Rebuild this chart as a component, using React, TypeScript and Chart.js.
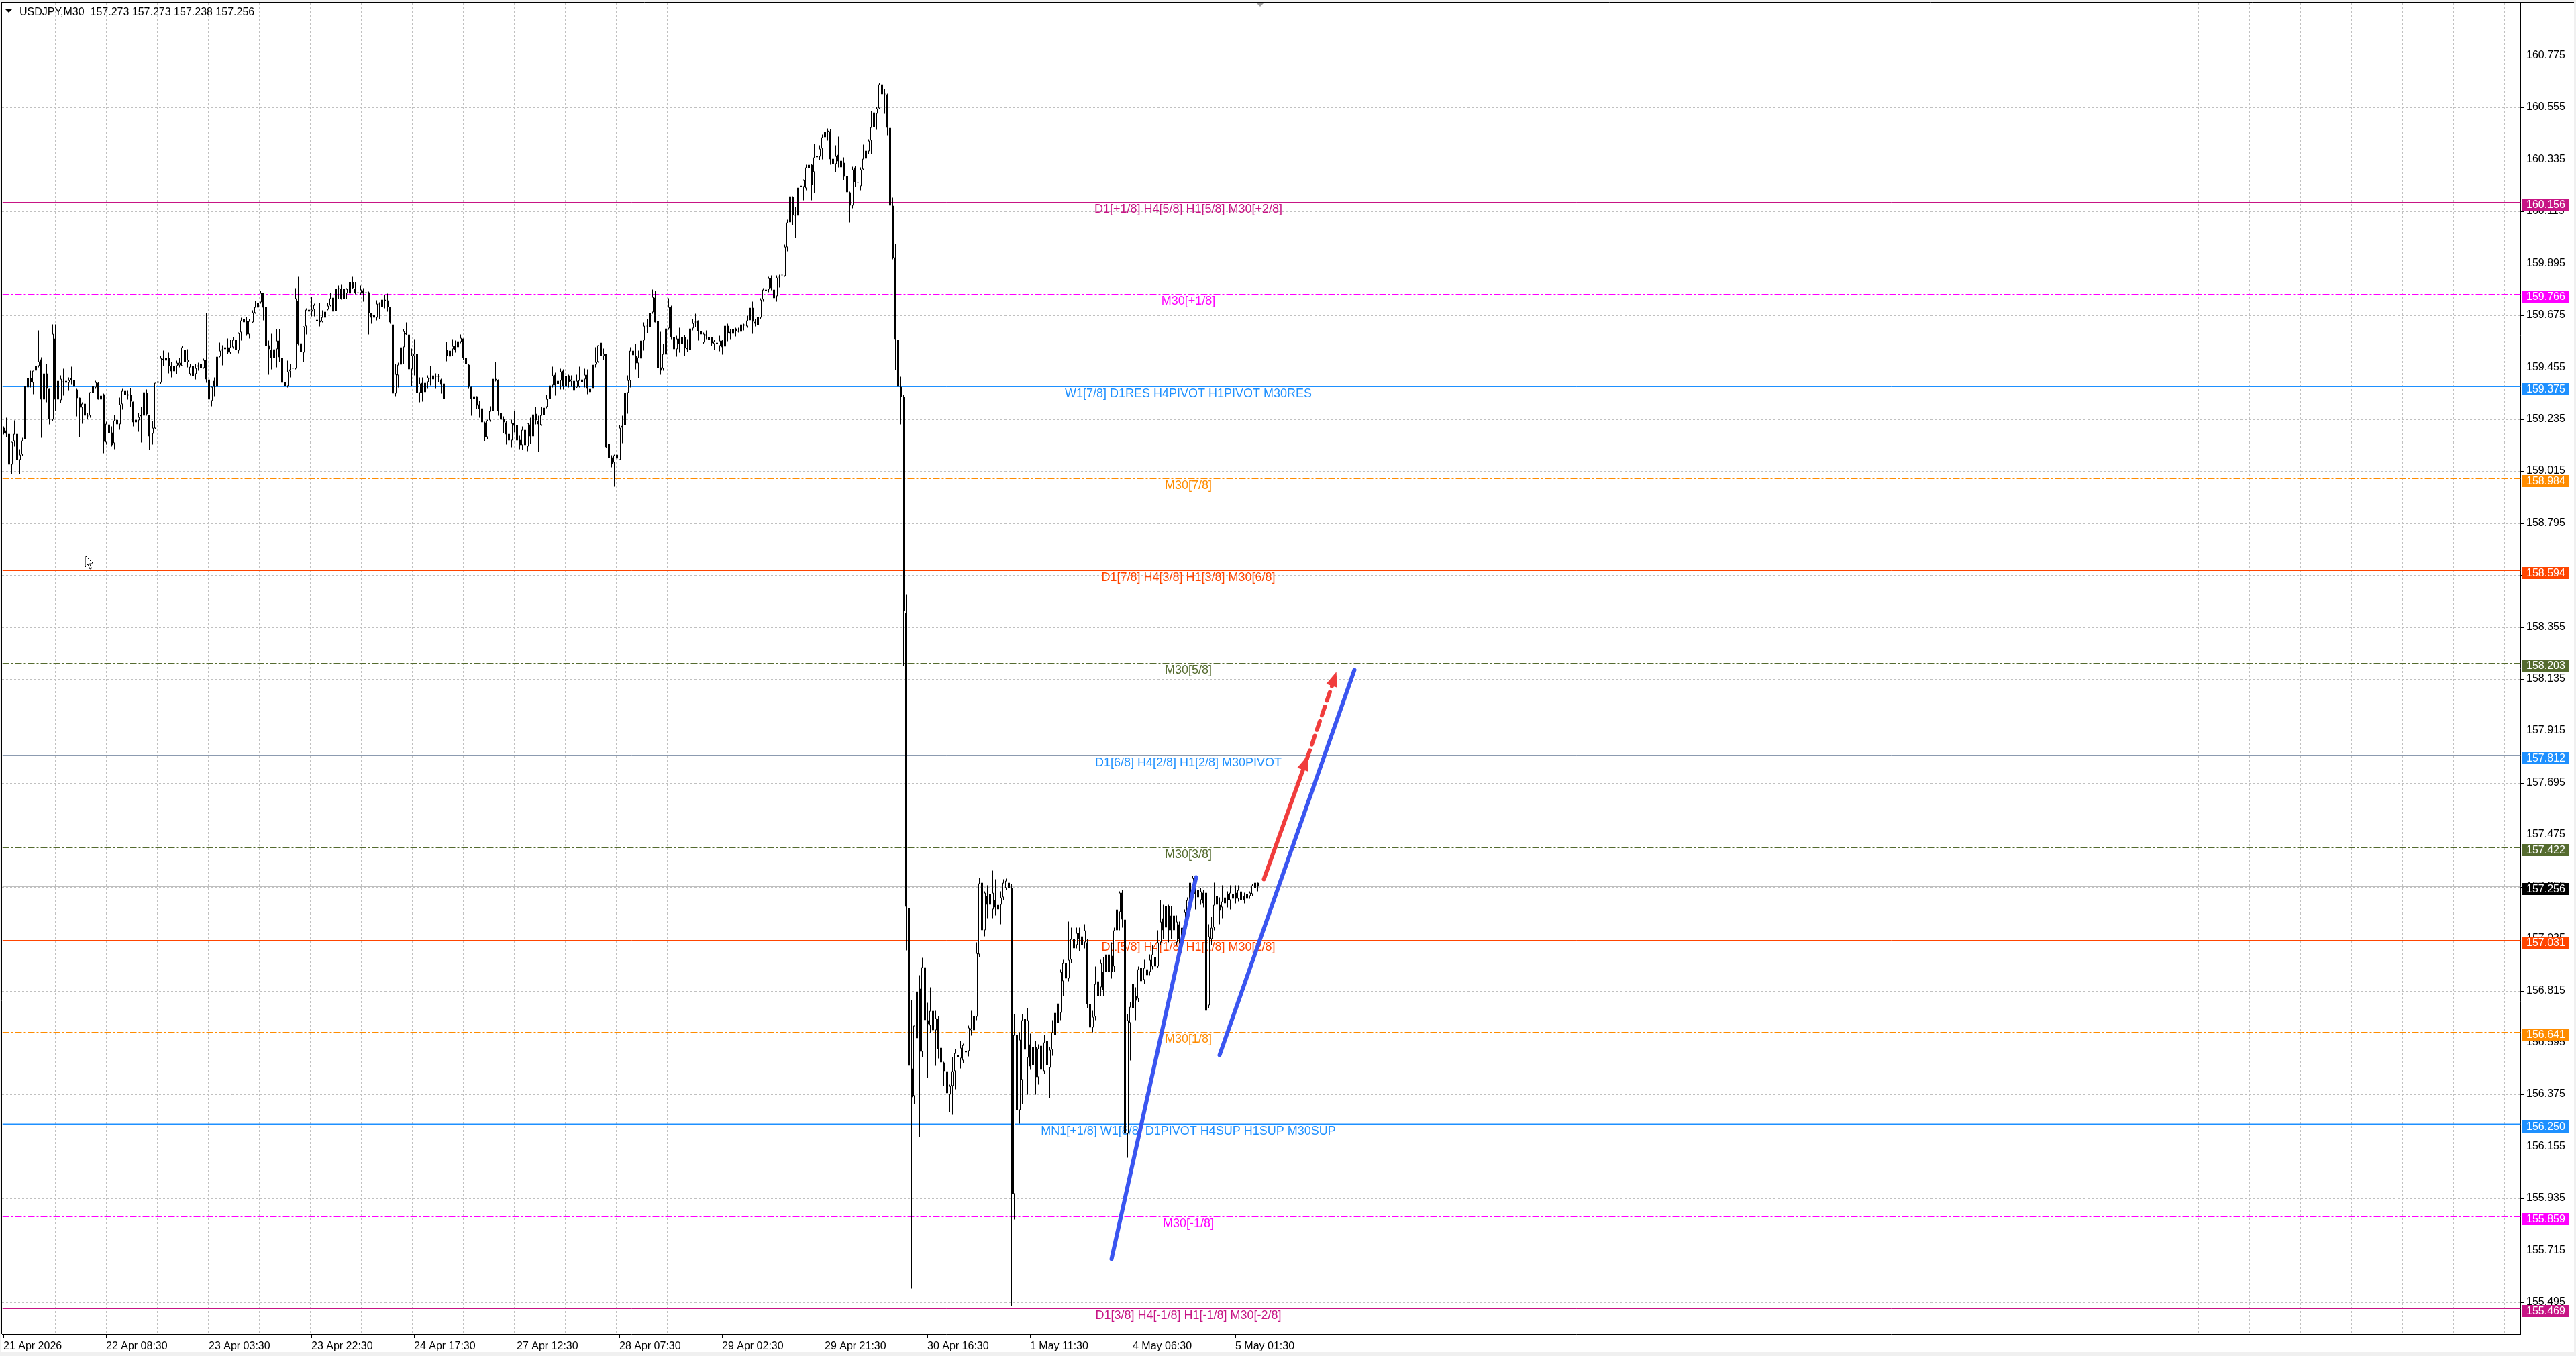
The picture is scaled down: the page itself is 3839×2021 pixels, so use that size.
import React, { useEffect, useRef } from 'react';
import { Chart, registerables } from 'chart.js';

Chart.register(...registerables);

const W = 3839;
const H = 2021;
const FONT = '"Liberation Sans", Arial, sans-serif';

const headerText = 'USDJPY,M30  157.273 157.273 157.238 157.256';

const dateLabels = [
  '21 Apr 2026', '22 Apr 08:30', '23 Apr 03:30', '23 Apr 22:30', '24 Apr 17:30',
  '27 Apr 12:30', '28 Apr 07:30', '29 Apr 02:30', '29 Apr 21:30', '30 Apr 16:30',
  '1 May 11:30', '4 May 06:30', '5 May 01:30',
];
const barsPerDateLabel = 38;

const yTickValues = [
  160.775, 160.555, 160.335, 160.115, 159.895, 159.675, 159.455, 159.235, 159.015,
  158.795, 158.575, 158.355, 158.135, 157.915, 157.695, 157.475, 157.255, 157.035,
  156.815, 156.595, 156.375, 156.155, 155.935, 155.715, 155.495,
];

// candles: [open, high, low, close]
const barsA = [
  [159.200,159.205,159.172,159.179],[159.188,159.243,159.162,159.175],[159.175,159.177,159.025,159.044],[159.044,159.141,159.006,159.141],
  [159.143,159.233,159.120,159.174],[159.174,159.177,159.044,159.063],[159.065,159.110,159.004,159.086],[159.086,159.158,159.082,159.148],
  [159.151,159.377,159.039,159.376],[159.371,159.413,159.267,159.411],[159.411,159.442,159.371,159.395],[159.390,159.441,159.342,159.441],
  [159.441,159.499,159.413,159.461],[159.461,159.614,159.456,159.482],[159.491,159.499,159.158,159.319],[159.319,159.432,159.276,159.432],
  [159.432,159.472,159.309,159.366],[159.366,159.366,159.215,159.238],[159.235,159.639,159.229,159.598],[159.578,159.639,159.271,159.321],
  [159.321,159.427,159.290,159.399],[159.316,159.423,159.305,159.407],[159.395,159.451,159.338,159.397],[159.399,159.404,159.357,159.390],
  [159.390,159.413,159.357,159.402],[159.410,159.459,159.383,159.402],[159.402,159.432,159.359,159.374],[159.363,159.366,159.248,159.326],
  [159.328,159.328,159.162,159.287],[159.287,159.309,159.219,159.302],[159.302,159.302,159.238,159.251],[159.252,159.262,159.238,159.248],
  [159.251,159.351,159.243,159.351],[159.349,159.395,159.347,159.376],[159.371,159.399,159.366,159.393],[159.390,159.395,159.319,159.321],
  [159.338,159.351,159.300,159.321],[159.342,159.347,159.093,159.141],[159.139,159.226,159.129,159.219],[159.215,159.215,159.172,159.179],
  [159.180,159.205,159.120,159.127],[159.134,159.254,159.110,159.233],[159.235,159.235,159.215,159.216],[159.216,159.328,159.191,159.300],
  [159.300,159.366,159.276,159.356],[159.356,159.368,159.338,159.341],[159.342,159.357,159.319,159.338],[159.340,159.368,159.288,159.311],
  [159.311,159.311,159.205,159.224],[159.224,159.271,159.200,159.235],[159.231,159.262,159.184,159.246],[159.248,159.288,159.139,159.254],
  [159.251,159.360,159.248,159.351],[159.349,159.362,159.252,159.257],[159.254,159.254,159.106,159.165],[159.175,159.228,159.129,159.200],
  [159.198,159.390,159.194,159.390],[159.390,159.430,159.357,159.397],[159.392,159.505,159.385,159.496],[159.489,159.527,159.461,159.492],
  [159.486,159.518,159.451,159.496],[159.496,159.518,159.432,159.461],[159.461,159.480,159.413,159.439],[159.439,159.480,159.404,159.461],
  [159.463,159.484,159.428,159.475],[159.464,159.496,159.456,159.477],[159.463,159.548,159.461,159.541],[159.530,159.572,159.456,159.480],
  [159.478,159.532,159.456,159.489],[159.427,159.470,159.423,159.458],[159.461,159.470,159.357,159.420],[159.428,159.472,159.404,159.454],
  [159.459,159.475,159.442,159.466],[159.472,159.494,159.423,159.454],[159.454,159.494,159.451,159.487],[159.487,159.686,159.390,159.406],
  [159.404,159.432,159.288,159.321],[159.314,159.373,159.292,159.373],[159.399,159.413,159.333,159.374],[159.374,159.503,159.357,159.502],
  [159.501,159.563,159.499,159.527],[159.527,159.551,159.464,159.534],[159.532,159.548,159.489,159.541],[159.543,159.579,159.513,159.519],
  [159.519,159.574,159.513,159.543],[159.541,159.584,159.537,159.574],[159.574,159.603,159.513,159.529],[159.527,159.605,159.516,159.600],
  [159.603,159.666,159.570,159.654],[159.662,159.695,159.645,159.648],[159.652,159.669,159.589,159.595],[159.595,159.660,159.579,159.652],
  [159.648,159.698,159.643,159.690],[159.688,159.737,159.683,159.711],
];

const barsB = [
  [159.709,159.737,159.679,159.729],[159.733,159.781,159.726,159.772],[159.772,159.773,159.655,159.709],[159.712,159.726,159.489,159.548],
  [159.550,159.570,159.425,159.532],[159.529,159.598,159.447,159.497],[159.497,159.612,159.491,159.532],[159.534,159.617,159.456,159.570],
  [159.570,159.617,159.480,159.499],[159.496,159.496,159.376,159.392],[159.393,159.395,159.303,159.378],[159.378,159.485,159.371,159.438],
  [159.438,159.472,159.414,159.447],[159.450,159.485,159.418,159.453],[159.452,159.792,159.447,159.749],[159.739,159.840,159.551,159.556],
  [159.558,159.570,159.480,159.523],[159.520,159.631,159.480,159.630],[159.630,159.707,159.595,159.700],[159.700,159.750,159.662,159.691],
  [159.693,159.755,159.671,159.702],[159.702,159.726,159.671,159.721],[159.657,159.726,159.627,159.653],[159.654,159.728,159.631,159.648],
  [159.650,159.698,159.646,159.669],[159.666,159.726,159.662,159.692],[159.701,159.728,159.698,159.718],[159.717,159.773,159.715,159.749],
  [159.752,159.759,159.693,159.693],[159.694,159.807,159.667,159.788],[159.788,159.802,159.745,159.791],[159.788,159.807,159.743,159.747],
  [159.747,159.792,159.740,159.788],[159.769,159.792,159.745,159.788],[159.769,159.826,159.755,159.816],[159.816,159.840,159.788,159.792],
  [159.788,159.816,159.766,159.773],[159.775,159.792,159.719,159.772],[159.773,159.804,159.764,159.785],[159.783,159.792,159.736,159.769],
  [159.772,159.783,159.712,159.775],[159.775,159.778,159.595,159.686],[159.686,159.688,159.641,159.667],[159.677,159.709,159.643,159.667],
  [159.667,159.740,159.655,159.726],[159.724,159.731,159.662,159.726],[159.712,159.750,159.684,159.743],[159.743,159.764,159.707,159.738],
  [159.740,159.769,159.693,159.712],[159.712,159.712,159.641,159.646],[159.639,159.641,159.330,159.345],[159.345,159.470,159.333,159.428],
  [159.423,159.475,159.371,159.468],[159.468,159.612,159.466,159.541],[159.541,159.617,159.472,159.611],[159.600,159.648,159.594,159.597],
  [159.595,159.643,159.406,159.449],[159.449,159.537,159.376,159.508],[159.506,159.575,159.423,159.513],[159.513,159.579,159.324,159.349],
  [159.349,159.414,159.309,159.388],[159.390,159.414,159.311,159.349],[159.352,159.423,159.303,159.390],[159.393,159.423,159.366,159.413],
  [159.411,159.461,159.380,159.407],[159.406,159.442,159.390,159.423],[159.418,159.430,159.366,159.416],[159.417,159.428,159.393,159.416],
  [159.406,159.409,159.347,159.383],[159.388,159.411,159.314,159.324],[159.530,159.565,159.482,159.506],[159.501,159.546,159.478,159.527],
  [159.532,159.577,159.504,159.546],[159.546,159.570,159.518,159.529],[159.541,159.584,159.504,159.568],[159.565,159.595,159.560,159.581],
  [159.578,159.579,159.489,159.497],[159.497,159.499,159.442,159.470],[159.468,159.472,159.366,159.374],[159.374,159.374,159.253,159.324],
  [159.324,159.366,159.309,159.333],[159.333,159.333,159.281,159.295],[159.300,159.314,159.243,159.281],[159.283,159.290,159.188,159.224],
  [159.224,159.226,159.144,159.160],[159.160,159.234,159.153,159.231],[159.231,159.292,159.226,159.273],[159.272,159.411,159.262,159.408],
  [159.407,159.480,159.397,159.401],[159.402,159.406,159.251,159.272],[159.262,159.272,159.224,159.236],
];

const barsC = [
  [159.239,159.249,159.178,159.223],[159.223,159.230,159.130,159.173],[159.175,159.178,159.102,159.147],[159.147,159.234,159.119,159.220],
  [159.220,159.272,159.180,159.208],[159.211,159.215,159.126,159.147],[159.149,159.168,159.111,159.126],[159.126,159.206,159.107,159.192],
  [159.192,159.211,159.094,159.126],[159.121,159.220,159.100,159.220],[159.215,159.244,159.132,159.163],[159.163,159.284,159.161,159.258],
  [159.261,159.289,159.215,159.233],[159.230,159.253,159.097,159.214],[159.211,159.289,159.208,159.255],[159.255,159.305,159.227,159.287],
  [159.289,159.339,159.282,159.324],[159.324,159.384,159.320,159.381],[159.381,159.460,159.372,159.422],[159.424,159.433,159.337,159.381],
  [159.384,159.443,159.375,159.400],[159.400,159.450,159.362,159.438],[159.443,159.448,159.362,159.376],[159.375,159.438,159.372,159.419],
  [159.422,159.424,159.372,159.395],[159.397,159.421,159.375,159.405],[159.400,159.402,159.356,159.358],[159.372,159.424,159.367,159.400],
  [159.375,159.459,159.372,159.403],[159.405,159.419,159.372,159.394],[159.405,159.450,159.372,159.424],[159.424,159.448,159.343,159.365],
  [159.350,159.375,159.303,159.365],[159.365,159.477,159.362,159.469],[159.469,159.542,159.457,159.479],[159.479,159.551,159.476,159.551],
  [159.561,159.566,159.492,159.504],[159.504,159.536,159.487,159.513],[159.513,159.513,159.116,159.119],[159.132,159.138,158.984,159.073],
  [159.075,159.083,159.034,159.047],[159.052,159.088,158.950,159.085],[159.088,159.163,159.064,159.069],[159.064,159.211,159.064,159.201],
  [159.208,159.252,159.135,159.201],[159.211,159.356,159.029,159.348],[159.348,159.422,159.261,159.403],[159.400,159.542,159.372,159.528],
  [159.528,159.687,159.476,159.509],[159.504,159.556,159.448,159.473],[159.473,159.528,159.410,159.498],[159.492,159.594,159.479,159.571],
  [159.571,159.646,159.528,159.632],[159.634,159.661,159.602,159.630],[159.627,159.691,159.592,159.687],[159.689,159.786,159.684,159.755],
  [159.752,159.779,159.646,159.648],[159.653,159.692,159.410,159.454],[159.457,159.606,159.426,159.441],[159.450,159.555,159.441,159.513],
  [159.511,159.642,159.507,159.621],[159.621,159.748,159.615,159.713],[159.711,159.717,159.575,159.585],[159.585,159.625,159.528,159.533],
  [159.533,159.590,159.501,159.580],[159.580,159.623,159.520,159.555],[159.556,159.621,159.537,159.583],[159.585,159.592,159.504,159.539],
  [159.539,159.575,159.523,159.533],[159.530,159.623,159.528,159.621],[159.621,159.661,159.613,159.644],[159.646,159.684,159.627,159.651],
  [159.656,159.656,159.571,159.611],[159.610,159.613,159.575,159.596],[159.561,159.604,159.556,159.599],[159.596,159.613,159.575,159.590],
  [159.573,159.608,159.556,159.585],[159.585,159.585,159.547,159.558],[159.556,159.573,159.530,159.568],[159.561,159.568,159.547,159.555],
  [159.547,159.590,159.526,159.571],[159.571,159.573,159.511,159.542],[159.545,159.662,159.518,159.632],[159.632,159.642,159.566,159.602],
  [159.606,159.618,159.575,159.599],[159.599,159.627,159.590,159.618],[159.621,159.623,159.587,159.611],[159.611,159.623,159.604,159.608],
  [159.608,159.640,159.606,159.637],[159.632,159.642,159.613,159.637],[159.630,159.675,159.623,159.656],[159.656,159.710,159.651,159.708],
];

const barsD = [
  [159.708,159.734,159.598,159.649],[159.649,159.660,159.630,159.640],[159.636,159.680,159.625,159.670],[159.668,159.750,159.660,159.744],
  [159.744,159.792,159.734,159.785],[159.785,159.801,159.763,159.780],[159.787,159.839,159.776,159.833],[159.835,159.845,159.782,159.792],
  [159.785,159.795,159.744,159.750],[159.759,159.845,159.734,159.837],[159.840,159.848,159.795,159.838],[159.845,159.861,159.839,159.848],
  [159.843,159.977,159.840,159.969],[159.966,160.083,159.947,160.070],[160.070,160.191,160.048,160.182],[160.179,160.182,160.059,160.102],
  [160.099,160.137,160.004,160.102],[160.099,160.239,160.089,160.217],[160.220,160.315,160.173,160.226],[160.221,160.251,160.163,160.249],
  [160.216,160.315,160.207,160.302],[160.300,160.366,160.283,160.315],[160.315,160.317,160.165,160.229],[160.282,160.404,160.194,160.347],
  [160.347,160.427,160.315,160.353],[160.349,160.397,160.334,160.382],[160.382,160.442,160.336,160.432],[160.432,160.461,160.423,160.454],
  [160.454,160.467,160.416,160.460],[160.457,160.465,160.315,160.338],[160.340,160.359,160.309,160.317],[160.317,160.397,160.283,160.353],
  [160.358,160.435,160.302,160.330],[160.331,160.347,160.296,160.302],[160.324,160.347,160.249,160.264],[160.267,160.296,160.156,160.197],
  [160.197,160.201,160.071,160.140],[160.140,160.305,160.131,160.296],[160.302,160.309,160.220,160.241],[160.239,160.277,160.203,160.241],
  [160.224,160.302,160.207,160.296],[160.296,160.400,160.292,160.340],[160.340,160.406,160.315,160.374],[160.372,160.423,160.359,160.416],
  [160.416,160.541,160.359,160.473],[160.473,160.581,160.467,160.537],[160.531,160.558,160.461,160.553],[160.553,160.660,160.550,160.657],
  [160.657,160.723,160.588,160.613],[160.617,160.635,160.531,160.612],[160.613,160.617,160.439,160.470],[160.470,160.470,159.788,160.140],
  [160.140,160.175,159.915,159.919],[159.922,159.979,159.446,159.577],[159.573,159.592,159.298,159.374],[159.374,159.417,159.214,159.332],
  [159.332,159.340,158.192,158.424],[158.417,158.494,156.986,157.172],[157.165,157.462,156.371,156.499],[156.487,156.777,155.555,156.364],
  [156.371,156.668,156.337,156.668],[156.615,157.102,156.603,156.812],[156.824,156.882,156.197,156.557],[156.557,156.956,156.534,156.917],
  [156.917,156.956,156.622,156.692],[156.692,156.766,156.446,156.673],[156.668,156.831,156.638,156.731],[156.731,156.777,156.603,156.650],
  [156.650,156.731,156.499,156.701],[156.696,156.708,156.529,156.569],[156.576,156.627,156.499,156.511],[156.511,156.515,156.413,156.476],
  [156.476,156.487,156.325,156.383],[156.376,156.418,156.302,156.413],[156.413,156.534,156.290,156.476],[156.476,156.569,156.399,156.552],
  [156.543,156.552,156.522,156.534],[156.529,156.603,156.487,156.576],[156.522,156.592,156.510,156.585],[156.562,156.580,156.545,156.556],
  [156.562,156.668,156.538,156.661],[156.650,156.731,156.627,156.656],[156.650,156.777,156.627,156.708],
];

const barsE = [
  [156.705,157.022,156.692,156.977],[156.971,157.294,156.958,157.272],[157.275,157.282,157.047,157.072],[157.072,157.237,157.047,157.231],
  [157.218,157.263,157.123,157.180],[157.180,157.288,157.149,157.225],[157.161,157.326,157.123,157.231],[157.199,157.288,157.136,157.168],
  [157.180,157.263,156.984,157.161],[157.180,157.237,157.098,157.212],[157.212,157.288,157.199,157.275],[157.250,157.291,157.244,157.282],
  [157.275,157.288,157.199,157.250],[157.250,157.269,155.480,155.956],[155.956,156.717,155.848,156.628],[156.628,156.654,156.261,156.311],
  [156.311,156.641,156.255,156.610],[156.438,156.717,156.337,156.692],[156.698,156.705,156.464,156.565],[156.533,156.743,156.375,156.692],
  [156.590,156.635,156.483,156.495],[156.502,156.628,156.438,156.578],[156.578,156.603,156.375,156.451],[156.451,156.590,156.419,156.571],
  [156.584,156.616,156.451,156.483],[156.476,156.628,156.464,156.597],[156.603,156.755,156.330,156.502],[156.489,156.578,156.362,156.565],
  [156.565,156.692,156.540,156.641],[156.628,156.743,156.578,156.724],[156.679,156.812,156.667,156.762],[156.724,156.908,156.692,156.895],
  [156.857,156.946,156.793,156.933],[156.933,156.952,156.844,156.869],[156.869,157.110,156.857,156.946],[156.946,157.085,156.933,157.034],
  [157.034,157.085,156.958,156.996],[157.009,157.085,156.996,157.060],[157.060,157.085,156.984,157.034],[157.009,157.072,156.952,157.047],
  [157.022,157.098,156.996,157.072],[157.022,157.034,156.743,156.761],[156.761,156.793,156.654,156.660],[156.660,156.730,156.641,156.705],
  [156.705,156.920,156.692,156.844],[156.793,156.895,156.781,156.857],[156.831,156.946,156.793,156.933],[156.895,156.958,156.793,156.819],
  [156.895,156.984,156.819,156.971],[156.895,157.085,156.590,156.971],[156.965,157.022,156.869,156.895],[156.920,157.085,156.895,157.072],
  [157.072,157.193,157.034,157.161],[157.149,157.237,157.072,157.231],[157.231,157.244,157.085,157.117],[157.117,157.123,155.690,156.210],
  [156.210,156.717,156.109,156.692],[156.679,156.768,156.521,156.749],[156.743,156.857,156.730,156.844],[156.793,156.831,156.692,156.774],
  [156.781,156.920,156.768,156.908],[156.914,156.933,156.806,156.857],[156.863,156.946,156.844,156.914],[156.908,156.946,156.869,156.882],
  [156.895,156.971,156.882,156.946],[156.920,157.009,156.908,156.971],[156.958,156.984,156.908,156.920],[156.920,157.072,156.914,157.022],
  [157.022,157.199,157.009,157.110],[157.123,157.180,157.034,157.072],[157.085,157.187,157.072,157.174],[157.174,157.180,157.022,157.072],
  [157.136,157.174,157.034,157.072],[157.072,157.161,156.946,157.136],[157.022,157.136,157.009,157.110],[157.098,157.110,157.015,157.034],
  [157.022,157.110,157.015,157.085],[157.072,157.161,157.060,157.149],[157.130,157.212,157.117,157.199],[157.187,157.288,157.174,157.275],
  [157.263,157.301,157.250,157.294],[157.263,157.275,157.161,157.225],[157.244,157.263,157.174,157.212],[157.199,157.250,157.180,157.237],
  [157.231,157.244,157.168,157.187],[157.231,157.237,156.540,156.730],[156.755,157.098,156.743,157.047],[157.034,157.130,157.009,157.085],
  [157.085,157.275,157.072,157.180],[157.180,157.225,157.123,157.218],[157.180,157.212,157.098,157.155],[157.168,157.263,157.123,157.193],
  [157.187,157.250,157.161,157.212],[157.225,157.237,157.168,157.199],[157.199,157.263,157.161,157.231],[157.206,157.237,157.193,157.225],
  [157.231,157.263,157.187,157.206],[157.206,157.263,157.193,157.244],[157.237,157.265,157.187,157.199],[157.218,157.231,157.187,157.199],
  [157.206,157.231,157.193,157.225],[157.218,157.237,157.206,157.231],[157.225,157.269,157.218,157.263],[157.250,157.280,157.231,157.273],
  [157.273,157.273,157.238,157.256],
];

// Murrey / pivot levels
const levelPrices = [160.156, 159.766, 159.375, 158.984, 158.594, 158.203, 157.812, 157.422, 157.031, 156.641, 156.250, 155.859, 155.469];
const levelTexts = [
  'D1[+1/8] H4[5/8] H1[5/8] M30[+2/8]',
  'M30[+1/8]',
  'W1[7/8] D1RES H4PIVOT H1PIVOT M30RES',
  'M30[7/8]',
  'D1[7/8] H4[3/8] H1[3/8] M30[6/8]',
  'M30[5/8]',
  'D1[6/8] H4[2/8] H1[2/8] M30PIVOT',
  'M30[3/8]',
  'D1[5/8] H4[1/8] H1[1/8] M30[2/8]',
  'M30[1/8]',
  'MN1[+1/8] W1[8/8] D1PIVOT H4SUP H1SUP M30SUP',
  'M30[-1/8]',
  'D1[3/8] H4[-1/8] H1[-1/8] M30[-2/8]',
];
const levelColors = ['#C71585', '#FF00FF', '#1E90FF', '#FF8C00', '#FF4500', '#556B2F', '#1E90FF', '#556B2F', '#FF4500', '#FF8C00', '#1E90FF', '#FF00FF', '#C71585'];
const levelLineColors = ['#C71585', '#FF00FF', '#1E90FF', '#FF8C00', '#FF4500', '#556B2F', '#8C9BB0', '#556B2F', '#FF4500', '#FF8C00', '#1E90FF', '#FF00FF', '#C71585'];
const levelDashDot = [false, true, false, true, false, true, false, true, false, true, false, true, false];
const levelWidths = [1, 1, 1, 1, 1, 1, 1, 1, 1, 1, 2, 1, 1];
const levelLabelBar = 438.4;

const bidPrice = 157.256;

// hand-drawn trend lines (bar index, price)
const blueLine1 = [{ x: 410.0, y: 155.681 }, { x: 441.2, y: 157.298 }];
const blueLine2 = [{ x: 449.9, y: 156.545 }, { x: 499.8, y: 158.175 }];
const redSolid = [{ x: 466.2, y: 157.288 }, { x: 482.1, y: 157.798 }];
const redDashed = [{ x: 482.1, y: 157.798 }, { x: 493.0, y: 158.153 }];

const X_MIN = -0.5;
const X_MAX = 931.4;
const Y_MIN = 155.3615;
const Y_MAX = 160.9995;
const vGridStart = 19.13;
const vGridStep = 18.88;

const allBars = [...barsA, ...barsB, ...barsC, ...barsD, ...barsE];

function buildConfig(): any {
  const wickData = allBars.map((b, i) => ({ x: i, y: [b[2], b[1]] }));
  const bodyData = allBars.map((b, i) => ({ x: i, y: [b[0], b[3]] }));
  const bodyFill = allBars.map((b) => (b[3] > b[0] ? '#FFFFFF' : '#000000'));

  const levelDatasets = levelPrices.map((p, k) => ({
    type: 'line',
    data: [{ x: X_MIN, y: p }, { x: X_MAX, y: p }],
    borderColor: levelLineColors[k],
    borderWidth: levelWidths[k],
    borderDash: levelDashDot[k] ? [10, 3, 3, 3] : [],
    pointRadius: 0,
    fill: false,
    order: 20,
  }));

  const bidDataset = {
    type: 'line',
    data: [{ x: X_MIN, y: bidPrice }, { x: X_MAX, y: bidPrice }],
    borderColor: '#C0C0C0',
    borderWidth: 1,
    pointRadius: 0,
    fill: false,
    order: 19,
  };

  const trend = (data: any, color: string, dash: number[]) => ({
    type: 'line',
    data,
    borderColor: color,
    borderWidth: 6,
    borderDash: dash,
    borderCapStyle: 'round',
    pointRadius: 0,
    fill: false,
    order: 1,
  });

  const mtPlugin = {
    id: 'mtDecor',
    beforeDraw(chart: any) {
      const { ctx, width, height } = chart;
      ctx.save();
      ctx.fillStyle = '#F0F0F0';
      ctx.fillRect(0, 0, width, height);
      ctx.fillStyle = '#FFFFFF';
      ctx.fillRect(2, 3, width - 5, height - 9);
      ctx.restore();
    },
    beforeDatasetsDraw(chart: any) {
      const { ctx, chartArea, scales } = chart;
      const xs = scales.x;
      const ys = scales.y;
      ctx.save();
      ctx.beginPath();
      ctx.rect(chartArea.left, chartArea.top, chartArea.right - chartArea.left, chartArea.bottom - chartArea.top);
      ctx.clip();
      ctx.strokeStyle = '#C0C0C0';
      ctx.lineWidth = 1;
      ctx.setLineDash([3, 3]);
      for (let b = vGridStart; ; b += vGridStep) {
        const px = xs.getPixelForValue(b);
        if (px > chartArea.right - 2) break;
        const sx = Math.round(px) + 0.5;
        ctx.beginPath();
        ctx.moveTo(sx, chartArea.top);
        ctx.lineTo(sx, chartArea.bottom);
        ctx.stroke();
      }
      ctx.setLineDash([]);
      ctx.font = `18px ${FONT}`;
      ctx.textAlign = 'center';
      ctx.textBaseline = 'alphabetic';
      const lx = xs.getPixelForValue(levelLabelBar);
      levelPrices.forEach((p, k) => {
        ctx.fillStyle = levelColors[k];
        ctx.fillText(levelTexts[k], lx, ys.getPixelForValue(p) + 16);
      });
      ctx.restore();
      // shift dataset drawing by half a pixel so 1px wicks and level lines are crisp
      ctx.save();
      ctx.translate(0.5, 0.5);
    },
    afterDatasetsDraw(chart: any) {
      const { ctx, scales, chartArea } = chart;
      ctx.restore();
      const xs = scales.x;
      const ys = scales.y;
      ctx.save();
      ctx.beginPath();
      ctx.rect(chartArea.left, chartArea.top, chartArea.right - chartArea.left, chartArea.bottom - chartArea.top);
      ctx.clip();
      const arrow = (pts: any[], color: string) => {
        const a = pts[pts.length - 2];
        const b = pts[pts.length - 1];
        const x1 = xs.getPixelForValue(a.x), y1 = ys.getPixelForValue(a.y);
        const x2 = xs.getPixelForValue(b.x), y2 = ys.getPixelForValue(b.y);
        const ang = Math.atan2(y2 - y1, x2 - x1);
        const len = 17, half = 8.5;
        ctx.fillStyle = color;
        ctx.beginPath();
        ctx.moveTo(x2 + Math.cos(ang) * 5, y2 + Math.sin(ang) * 5);
        ctx.lineTo(x2 - Math.cos(ang) * len + Math.cos(ang + Math.PI / 2) * half, y2 - Math.sin(ang) * len + Math.sin(ang + Math.PI / 2) * half);
        ctx.lineTo(x2 - Math.cos(ang) * len - Math.cos(ang + Math.PI / 2) * half, y2 - Math.sin(ang) * len - Math.sin(ang + Math.PI / 2) * half);
        ctx.closePath();
        ctx.fill();
      };
      arrow(redSolid, '#F03C3C');
      arrow(redDashed, '#F03C3C');
      ctx.restore();
    },
    afterDraw(chart: any) {
      const { ctx, chartArea, scales, width } = chart;
      const ys = scales.y;
      const xs = scales.x;
      ctx.save();
      // window frame
      ctx.strokeStyle = '#000000';
      ctx.lineWidth = 1;
      ctx.beginPath();
      ctx.moveTo(2, 3.5);
      ctx.lineTo(width - 3, 3.5);
      ctx.moveTo(2.5, 3);
      ctx.lineTo(2.5, chartArea.bottom);
      ctx.stroke();
      // price tags
      ctx.font = `16px ${FONT}`;
      ctx.textAlign = 'left';
      ctx.textBaseline = 'middle';
      const tag = (p: number, bg: string) => {
        const py = Math.round(ys.getPixelForValue(p));
        ctx.fillStyle = bg;
        ctx.fillRect(chartArea.right + 2, py - 5, 71, 18);
        ctx.fillStyle = '#FFFFFF';
        ctx.fillText(p.toFixed(3), chartArea.right + 9, py + 5);
      };
      levelPrices.forEach((p, k) => tag(p, levelColors[k]));
      tag(bidPrice, '#000000');
      // header
      ctx.fillStyle = '#000000';
      ctx.beginPath();
      ctx.moveTo(8, 14);
      ctx.lineTo(18, 14);
      ctx.lineTo(13, 19);
      ctx.closePath();
      ctx.fill();
      ctx.font = `16px ${FONT}`;
      ctx.textBaseline = 'alphabetic';
      ctx.fillText(headerText, 29, 23);
      // chart shift marker
      const mx = Math.round(xs.getPixelForValue(allBars.length));
      ctx.fillStyle = '#A0A0A0';
      ctx.beginPath();
      ctx.moveTo(mx - 6, 4);
      ctx.lineTo(mx + 6, 4);
      ctx.lineTo(mx, 10);
      ctx.closePath();
      ctx.fill();
      // mouse pointer
      const cx = 127, cy = 828;
      ctx.beginPath();
      ctx.moveTo(cx, cy);
      ctx.lineTo(cx, cy + 17);
      ctx.lineTo(cx + 4, cy + 13);
      ctx.lineTo(cx + 7, cy + 20);
      ctx.lineTo(cx + 9.5, cy + 19);
      ctx.lineTo(cx + 6.5, cy + 12);
      ctx.lineTo(cx + 12, cy + 12);
      ctx.closePath();
      ctx.fillStyle = '#FFFFFF';
      ctx.fill();
      ctx.strokeStyle = '#000000';
      ctx.stroke();
      ctx.restore();
    },
  };

  return {
    type: 'bar',
    data: {
      datasets: [
        ...levelDatasets,
        bidDataset,
        {
          type: 'bar',
          data: wickData,
          backgroundColor: '#000000',
          borderWidth: 0,
          barThickness: 1,
          grouped: false,
          inflateAmount: 0,
          order: 6,
        },
        {
          type: 'bar',
          data: bodyData,
          backgroundColor: bodyFill,
          borderColor: '#000000',
          borderWidth: 1,
          borderSkipped: false,
          barThickness: 3,
          minBarLength: 1,
          grouped: false,
          inflateAmount: 0,
          order: 5,
        },
        trend(blueLine1, '#3A55F0', []),
        trend(blueLine2, '#3A55F0', []),
        trend(redSolid, '#F03C3C', []),
        trend(redDashed, '#F03C3C', [14, 9]),
      ],
    },
    options: {
      animation: false,
      responsive: false,
      maintainAspectRatio: false,
      devicePixelRatio: 1,
      events: [],
      layout: { padding: { left: 3, top: 4, right: 0, bottom: 0 } },
      plugins: { legend: { display: false }, tooltip: { enabled: false } },
      scales: {
        x: {
          type: 'linear',
          position: 'bottom',
          min: X_MIN,
          max: X_MAX,
          offset: false,
          alignToPixels: true,
          afterBuildTicks: (s: any) => {
            s.ticks = dateLabels.map((_, k) => ({ value: k * barsPerDateLabel }));
          },
          afterFit: (s: any) => {
            s.height = 33;
            s.paddingLeft = 0;
            s.paddingRight = 0;
          },
          ticks: {
            autoSkip: false,
            maxRotation: 0,
            minRotation: 0,
            align: 'start',
            padding: 3,
            color: '#000000',
            font: { family: FONT, size: 16 },
            callback: (_v: any, i: number) => dateLabels[i],
          },
          grid: {
            offset: false,
            drawOnChartArea: false,
            drawTicks: true,
            tickLength: 6,
            tickColor: '#000000',
            color: '#000000',
          },
          border: { display: true, color: '#000000', width: 1 },
        },
        y: {
          type: 'linear',
          position: 'right',
          min: Y_MIN,
          max: Y_MAX,
          beginAtZero: false,
          alignToPixels: true,
          afterBuildTicks: (s: any) => {
            s.ticks = yTickValues.map((v) => ({ value: v }));
          },
          afterFit: (s: any) => {
            s.width = 83;
            s.paddingTop = 0;
            s.paddingBottom = 0;
          },
          ticks: {
            autoSkip: false,
            padding: 3,
            color: '#000000',
            font: { family: FONT, size: 16 },
            callback: (v: any) => Number(v).toFixed(3),
          },
          grid: {
            color: '#C0C0C0',
            drawTicks: true,
            tickLength: 6,
            tickColor: '#000000',
            tickBorderDash: [],
          },
          border: { display: true, color: '#000000', width: 1, dash: [3, 3] },
        },
      },
    },
    plugins: [mtPlugin],
  };
}

export default function App() {
  const ref = useRef<HTMLCanvasElement | null>(null);
  useEffect(() => {
    document.body.style.margin = '0';
    document.body.style.overflow = 'hidden';
    const canvas = ref.current;
    if (!canvas) return;
    const chart = new Chart(canvas, buildConfig());
    return () => chart.destroy();
  }, []);
  return (
    <div style={{ position: 'absolute', left: 0, top: 0, width: W, height: H, background: '#F0F0F0' }}>
      <canvas ref={ref} width={W} height={H} style={{ display: 'block', width: W, height: H }} />
    </div>
  );
}
